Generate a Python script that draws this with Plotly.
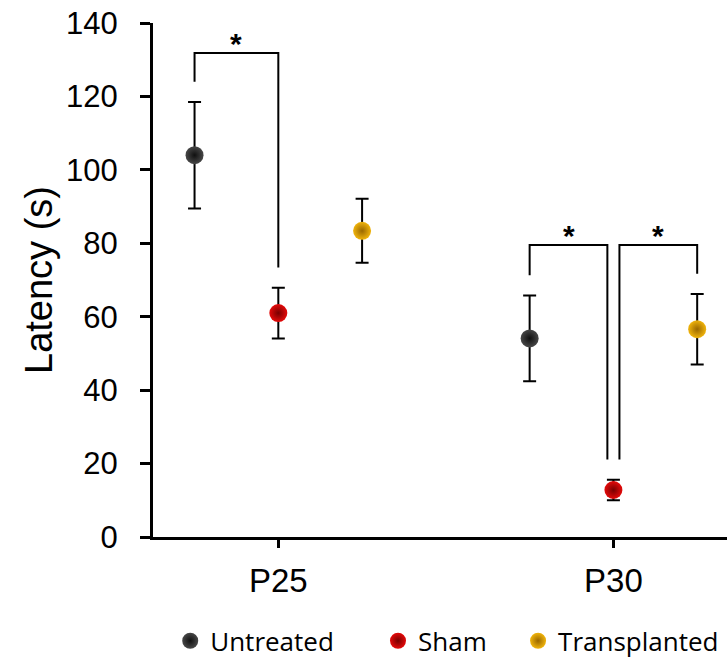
import plotly.graph_objects as go

# Time points and treatment groups
timepoints = ["P25", "P30"]
groups = ["Untreated", "Sham", "Transplanted"]

# Mean latency (s) and error (s) per group, one value per time point
untreated_mean = [104.0, 54.1]
untreated_err = [14.5, 11.7]
sham_mean = [61.0, 12.8]
sham_err = [6.9, 2.8]
transplanted_mean = [83.4, 56.6]
transplanted_err = [8.7, 9.6]

# Significance brackets: (time point index, group a, group b)
sig_pairs = [(0, "Untreated", "Sham"), (1, "Untreated", "Sham"), (1, "Sham", "Transplanted")]

means = {"Untreated": untreated_mean, "Sham": sham_mean, "Transplanted": transplanted_mean}
errs = {"Untreated": untreated_err, "Sham": sham_err, "Transplanted": transplanted_err}

offsets = {"Untreated": -0.25, "Sham": 0.0, "Transplanted": 0.25}
fill = {"Untreated": "#474747", "Sham": "#e40a0a", "Transplanted": "#f0b40c"}
edge = {"Untreated": "#101010", "Sham": "#780000", "Transplanted": "#9a6800"}

# Each group gets its own legend box, placed along the bottom (paper x)
legend_ids = {"Untreated": "legend", "Sham": "legend2", "Transplanted": "legend3"}
legend_x = {"Untreated": 0.030, "Sham": 0.392, "Transplanted": 0.636}

FONT = "Liberation Sans, Arial, sans-serif"
LEGEND_FONT = dict(family="Open Sans, sans-serif", size=26, color="black")

fig = go.Figure()

for g in groups:
    xs = [i + 1 + offsets[g] for i in range(len(timepoints))]
    fig.add_trace(go.Scatter(
        x=xs, y=means[g], mode="markers", name=g, legend=legend_ids[g],
        marker=dict(size=18, color=fill[g],
                    gradient=dict(type="radial", color=edge[g]),
                    line=dict(width=0)),
        error_y=dict(type="data", array=errs[g], visible=True,
                     color="black", thickness=2, width=6.5),
    ))

# Bracket geometry in data units
RISE = 13.3   # bracket bar above the highest error bar top in the time point
GAP = 5.5     # gap between an error bar top and the bracket leg
SPLIT = 0.018  # horizontal separation of legs that share a group

def top(g, i):
    return means[g][i] + errs[g][i]

shared = {}
for (i, a, b) in sig_pairs:
    shared[(i, a)] = shared.get((i, a), 0) + 1
    shared[(i, b)] = shared.get((i, b), 0) + 1

for (i, a, b) in sig_pairs:
    h = max(top(g, i) for g in groups) + RISE
    xa = i + 1 + offsets[a]
    xb = i + 1 + offsets[b]
    if shared[(i, a)] > 1:
        xa += SPLIT
    if shared[(i, b)] > 1:
        xb -= SPLIT
    fig.add_trace(go.Scatter(
        x=[xa, xa, xb, xb],
        y=[top(a, i) + GAP, h, h, top(b, i) + GAP],
        mode="lines", line=dict(color="black", width=2),
        showlegend=False, hoverinfo="skip",
    ))
    fig.add_annotation(x=(xa + xb) / 2, y=h, text="<b>*</b>", showarrow=False,
                       yanchor="bottom", yshift=-9,
                       font=dict(size=30, color="black", family=FONT))

legend_common = dict(orientation="h", y=-0.202, yanchor="middle", xanchor="left",
                     font=LEGEND_FONT, bgcolor="rgba(0,0,0,0)")

fig.update_layout(
    width=727, height=666,
    margin=dict(l=153, r=0, t=23, b=129),
    paper_bgcolor="white", plot_bgcolor="white",
    font=dict(family=FONT, color="black"),
    showlegend=True,
    legend=dict(x=legend_x["Untreated"], **legend_common),
    legend2=dict(x=legend_x["Sham"], **legend_common),
    legend3=dict(x=legend_x["Transplanted"], **legend_common),
    xaxis=dict(range=[0.626, 2.339], tickvals=[1, 2], ticktext=timepoints,
               showgrid=False, zeroline=False, showline=True, linecolor="black",
               linewidth=3, ticks="outside", ticklen=8, tickwidth=2.5,
               tickcolor="black", tickfont=dict(size=33), ticklabelstandoff=4),
    yaxis=dict(range=[0, 140], tickvals=list(range(0, 141, 20)),
               showgrid=False, zeroline=False, showline=True, linecolor="black",
               linewidth=3, ticks="outside", ticklen=10, tickwidth=2.5,
               tickcolor="black", tickfont=dict(size=31), ticklabelstandoff=16,
               title=dict(text="Latency (s)", font=dict(size=38), standoff=2)),
)

fig.write_html("out.html")
